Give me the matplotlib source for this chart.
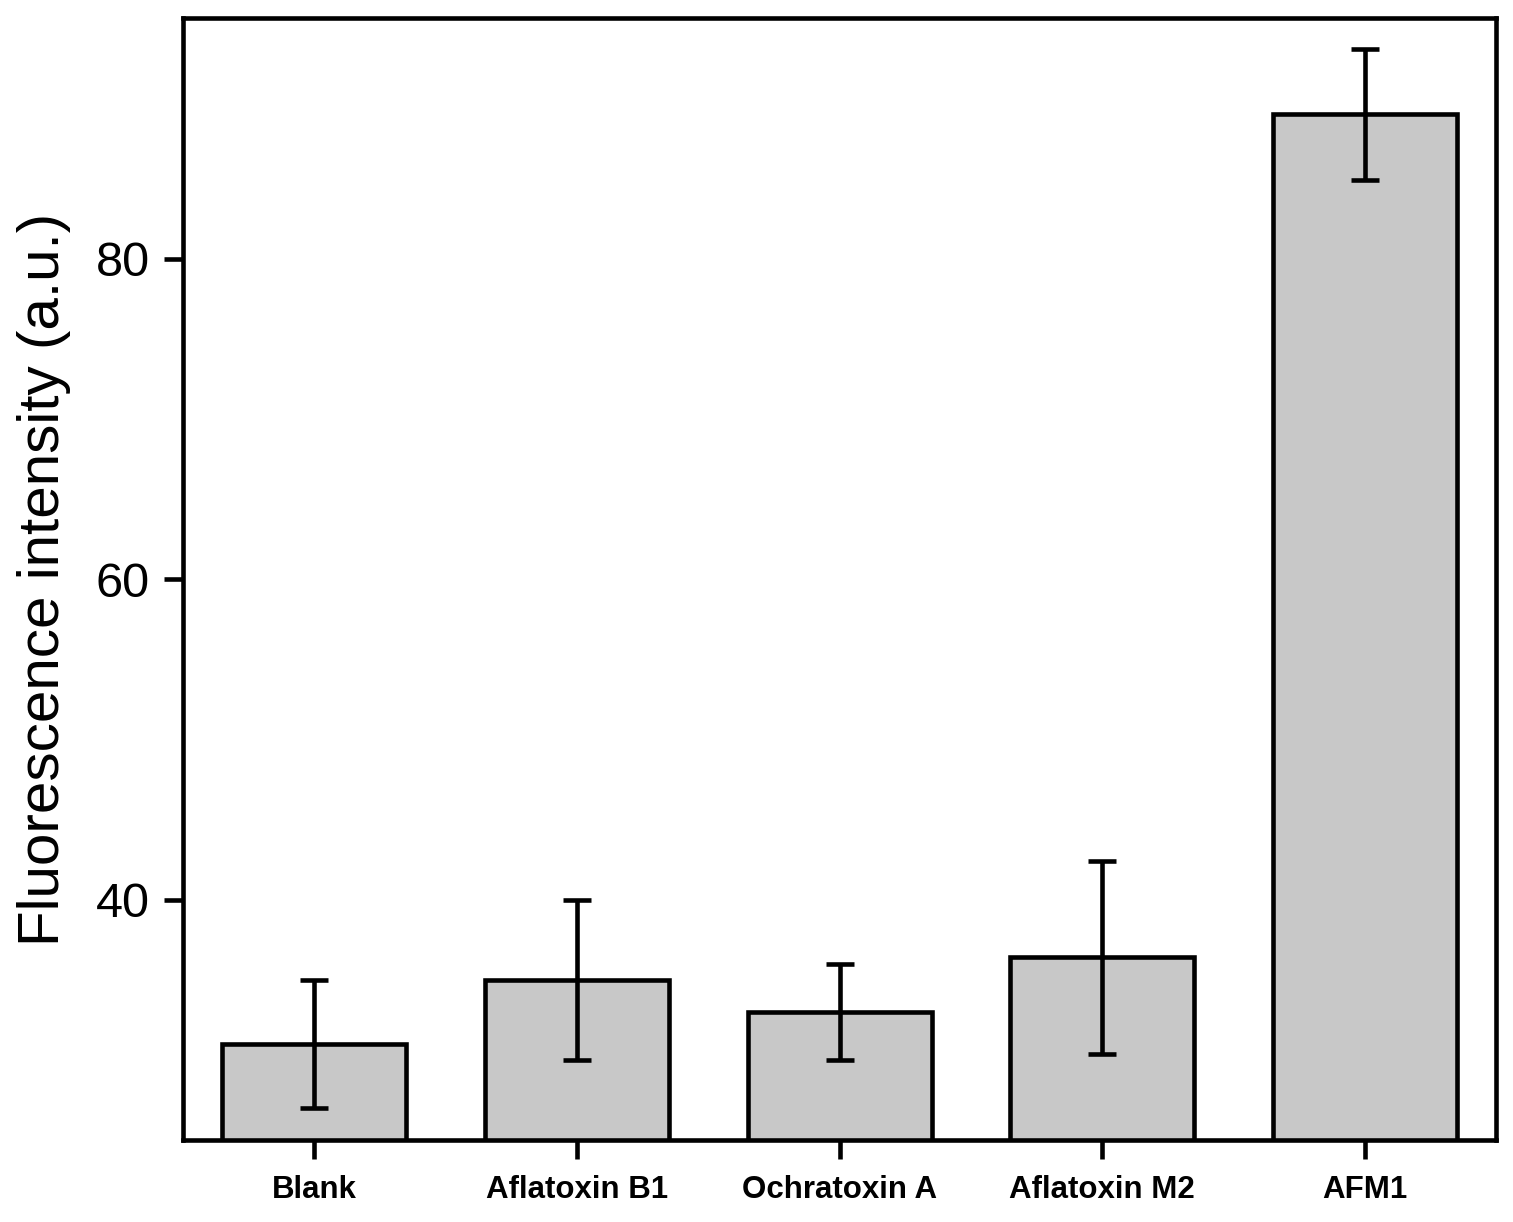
import matplotlib
matplotlib.use('Agg')
import matplotlib.pyplot as plt

# Datos
categorias = ['Blank', 'Aflatoxin B1', 'Ochratoxin A', 'Aflatoxin M2', 'AFM1']
intensidad = [31, 35, 33, 36.4, 89]
error = [4, 5, 3, 6, 4.1]

plt.rcParams['font.family'] = ['Liberation Sans', 'DejaVu Sans']

fig = plt.figure(figsize=(15.13, 12.22), dpi=100)
ax = fig.add_axes([0.121, 0.067, 0.868, 0.918])

x = range(len(categorias))
ax.bar(x, intensidad, width=0.7, color='#c8c8c8', edgecolor='black', linewidth=3.3)
ax.errorbar(x, intensidad, yerr=error, fmt='none', ecolor='black',
            elinewidth=3.3, capsize=10, capthick=3.3)

ax.set_xlim(-0.5, 4.5)
ax.set_ylim(25, 95)
ax.set_yticks([40, 60, 80])
ax.set_xticks(list(x))
ax.set_xticklabels(categorias, fontsize=22.5, fontweight='bold')
ax.tick_params(axis='y', labelsize=35, length=14, width=3.3, pad=10)
ax.tick_params(axis='x', length=14, width=3.3, pad=11)
ax.set_ylabel('Fluorescence intensity (a.u.)', fontsize=42, labelpad=18)

for s in ax.spines.values():
    s.set_linewidth(3.3)

fig.savefig('out.png', dpi=100)
